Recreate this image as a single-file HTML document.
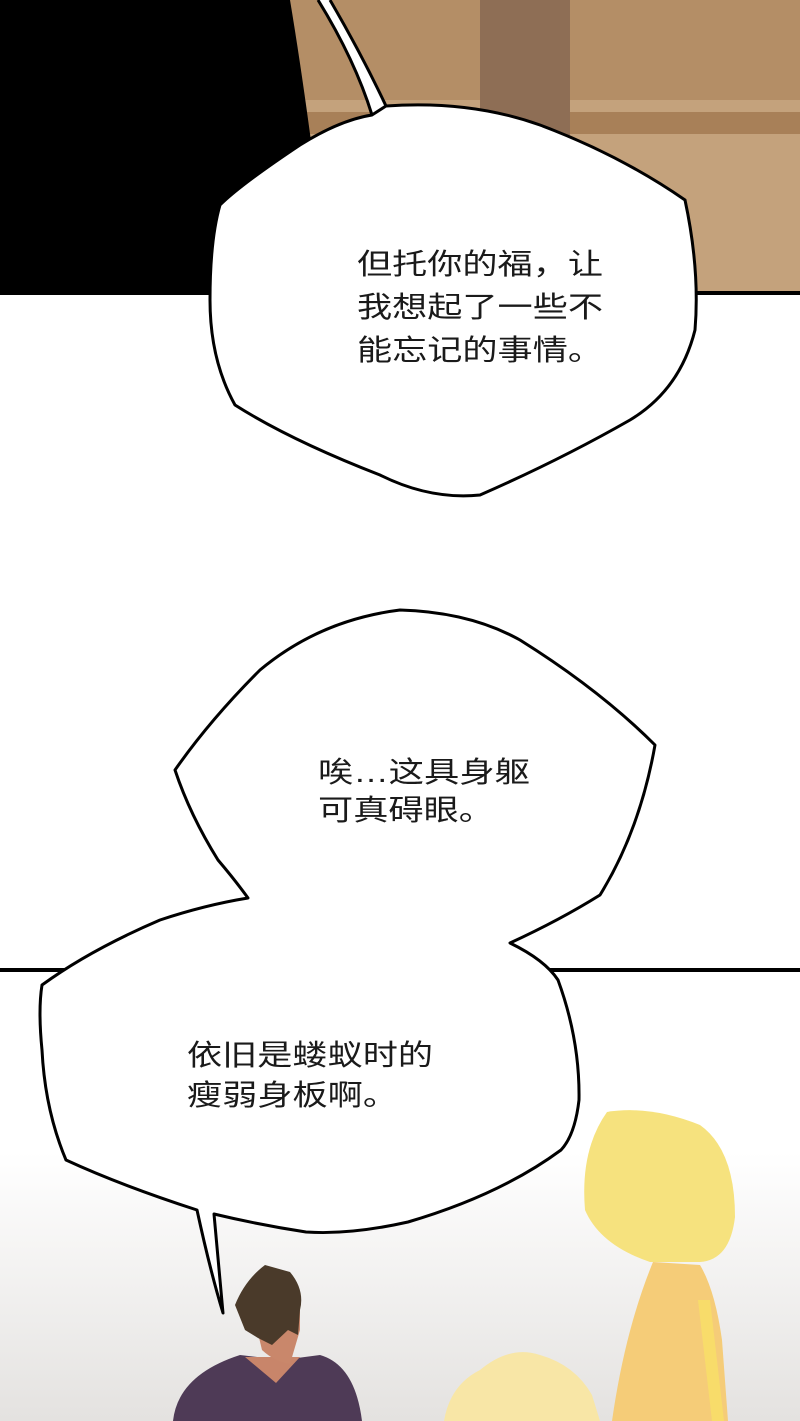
<!DOCTYPE html>
<html><head><meta charset="utf-8"><style>
html,body{margin:0;padding:0;width:800px;height:1421px;overflow:hidden;background:#fff}
svg{display:block}
text{font-family:"Liberation Sans","Noto Sans CJK SC",sans-serif;font-size:29px;fill:#1a1a1a}
</style></head><body>
<svg width="800" height="1421" viewBox="0 0 800 1421">
<defs>
<linearGradient id="g" x1="0" y1="0" x2="0" y2="1">
<stop offset="0" stop-color="#ffffff"/><stop offset="0.4" stop-color="#ffffff"/><stop offset="1" stop-color="#e4e2e0"/>
</linearGradient>
</defs>
<rect x="0" y="0" width="800" height="295" fill="#b48e66"/>
<rect x="300" y="100" width="500" height="195" fill="#c4a27c"/>
<rect x="300" y="112" width="500" height="22" fill="#a88058"/>
<rect x="480" y="0" width="90" height="135" fill="#8e6e55"/>
<path d="M0 0 L290 0 Q310 120 330 295 L0 295 Z" fill="#000"/>
<rect x="0" y="291" width="800" height="4" fill="#000"/>
<rect x="0" y="972" width="800" height="449" fill="url(#g)"/>
<rect x="0" y="968" width="800" height="4" fill="#000"/>
<!-- girl -->
<path d="M653 1262 L700 1265 Q715 1290 722 1340 L728 1421 L612 1421 Q625 1330 653 1262Z" fill="#f5cc78"/>
<path d="M698 1300 L712 1421 L724 1421 L710 1300Z" fill="#f8dc6a"/>
<path d="M607 1112 Q650 1105 700 1125 Q735 1150 735 1217 Q730 1260 700 1262 L650 1262 Q600 1245 585 1210 Q580 1150 607 1112Z" fill="#f6e27e"/>
<path d="M444 1421 Q450 1385 480 1370 Q510 1345 540 1355 Q575 1365 592 1395 L600 1421Z" fill="#f8e6a6"/>
<!-- man -->
<path d="M173 1421 Q178 1375 240 1355 L282 1360 L320 1355 Q355 1365 362 1421Z" fill="#4e3a56"/>
<path d="M245 1357 L300 1357 L276 1383 Z" fill="#c8856a"/>
<path d="M250 1300 L262 1350 Q275 1362 290 1364 L300 1330 L300 1300Z" fill="#c9876b"/>
<path d="M235 1305 Q245 1280 265 1265 L290 1272 Q305 1290 300 1310 L298 1335 L288 1330 L272 1345 L258 1338 L245 1330Z" fill="#4a3a2a"/>
<!-- bubble 1 -->
<path d="M318 0 Q355 60 372 115 L386 106 Q362 55 330 0 Z" fill="#fff"/>
<path d="M318 0 Q355 60 372 115 M330 0 Q362 55 386 106" stroke="#000" stroke-width="3" fill="none"/>
<path d="M386 106 Q470 100 540 125 Q620 155 685 200 Q700 270 695 330 Q680 390 630 420 Q560 460 480 495 Q430 500 380 475 Q290 440 235 405 Q210 360 210 300 Q210 240 220 205 Q240 185 300 145 Q340 120 372 115 Z" fill="#fff" stroke="#000" stroke-width="3"/>
<!-- bubble 2+3 -->
<path d="M400 610 Q470 612 520 640 Q600 690 655 745 Q640 830 600 895 Q560 920 510 943 Q545 960 558 980 Q580 1040 579 1100 Q575 1135 561 1150 Q500 1195 408 1222 Q350 1235 306 1232 Q260 1225 214 1214 L223 1313 Q210 1270 197 1210 Q120 1185 66 1160 Q45 1110 42 1050 Q38 1010 42 985 Q90 950 160 920 Q205 905 248 898 Q235 880 218 860 Q190 815 175 770 Q210 720 260 670 Q320 620 400 610 Z" fill="#fff" stroke="#000" stroke-width="3" stroke-linejoin="round"/>
<text x="357" y="274" textLength="246" lengthAdjust="spacingAndGlyphs">但托你的福，让</text>
<text x="357" y="317" textLength="246" lengthAdjust="spacingAndGlyphs">我想起了一些不</text>
<text x="357" y="360" textLength="246" lengthAdjust="spacingAndGlyphs">能忘记的事情。</text>
<text x="318" y="782" textLength="212" lengthAdjust="spacingAndGlyphs">唉…这具身躯</text>
<text x="318" y="820" textLength="176" lengthAdjust="spacingAndGlyphs">可真碍眼。</text>
<text x="187" y="1065" textLength="246" lengthAdjust="spacingAndGlyphs">依旧是蝼蚁时的</text>
<text x="187" y="1105" textLength="211" lengthAdjust="spacingAndGlyphs">瘦弱身板啊。</text>
</svg>
</body></html>
